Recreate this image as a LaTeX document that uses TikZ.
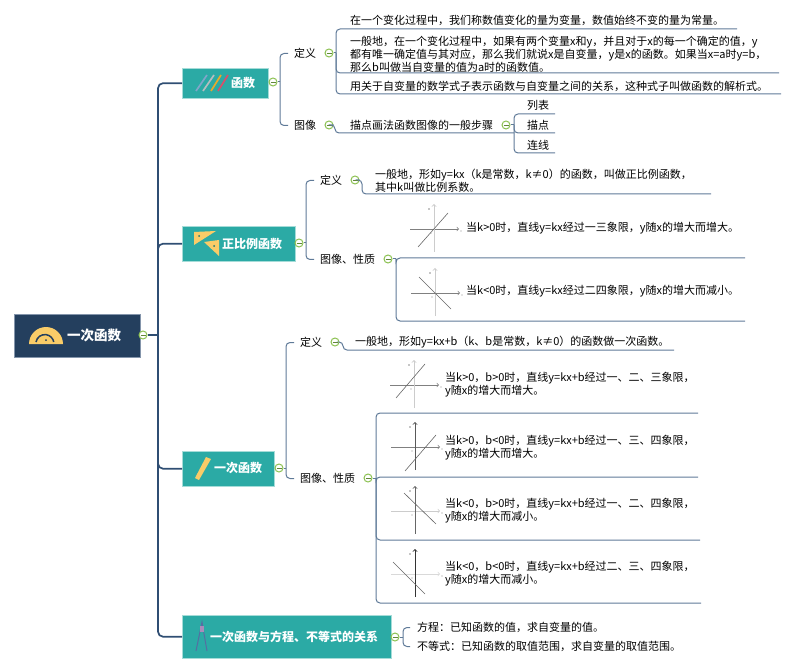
\documentclass[tikz,border=0pt]{standalone}
\usepackage{fontspec}
\setmainfont{Noto Sans CJK SC}
\definecolor{rootblue}{HTML}{243F5E}
\definecolor{rootedge}{HTML}{8495AB}
\definecolor{teal1}{HTML}{2BAAA5}
\definecolor{tealedge}{HTML}{A5DCD8}
\definecolor{trunkblue}{HTML}{2F4E73}
\definecolor{branchblue}{HTML}{5F7A98}
\definecolor{togglegreen}{HTML}{8CC152}
\definecolor{icongold}{HTML}{F9CC68}
\tikzset{
rootbox/.style={draw=rootedge,fill=rootblue,anchor=north west,inner sep=0},
topicbox/.style={draw=tealedge,fill=teal1,anchor=north west,inner sep=0},
rootname/.style={anchor=west,inner sep=0,text=white,font=\fontsize{13.5}{16}\selectfont\bfseries},
topicname/.style={anchor=west,inner sep=0,text=white,font=\fontsize{12}{15}\selectfont\bfseries},
toggle/.style={circle,draw=togglegreen,fill=white,line width=1pt,minimum size=8pt,inner sep=0,
  path picture={\draw[togglegreen!70!black,line width=.7pt] ([xshift=1.5pt]path picture bounding box.west) -- ([xshift=-1.5pt]path picture bounding box.east);}},
leaf/.style={anchor=west,inner sep=0,align=left,yshift=-.5pt,font=\fontsize{11}{12.9}\selectfont},
stem/.style={anchor=west,inner ysep=0,inner xsep=6pt,yshift=-.5pt,font=\fontsize{11}{13}\selectfont},
trunk/.style={trunkblue,line width=1.7pt,rounded corners=5pt},
branch/.style={branchblue,line width=1pt,rounded corners=4pt}
}
\begin{document}
\begin{tikzpicture}[x=1pt,y=-1pt]
\useasboundingbox (0,0) rectangle (800,668);
% main boxes
\node[rootbox,minimum width=126pt,minimum height=43pt] (root) at (14,314) {};
\node[topicbox,minimum width=86pt,minimum height=30pt] (fn) at (182,68) {};
\node[topicbox,minimum width=113pt,minimum height=35pt] (prop) at (182,226) {};
\node[topicbox,minimum width=92pt,minimum height=35pt] (lin) at (182,451) {};
\node[topicbox,minimum width=209pt,minimum height=43pt] (rel) at (182,615) {};
\node[rootname] (rootText) at (67,335) {一次函数};
\node[topicname] (fnText) at (231,83) {函数};
\node[topicname] (propText) at (222,244) {正比例函数};
\node[topicname] (linText) at (214,468) {一次函数};
\node[topicname] (relText) at (210,637) {一次函数与方程、不等式的关系};
% icons
\fill[icongold] (29,344) arc (180:360:17) -- cycle;
\draw[rootblue,line width=1.5pt] (36,342) arc (190:350:9);
\fill[rootblue] (46,340) circle (1);
\foreach \xa/\xb/\c in {196/207/7FA6C9,203/214/B5BDC0,211/221/E8A92C,218/228/D9506A}{
\definecolor{pen}{HTML}{\c}
\draw[pen,line width=1.7pt] (\xa,91) -- (\xb,75);
}
\fill[icongold] (194,232) -- (216,231) -- (194,245) -- cycle;
\fill[icongold] (204,242) -- (219,240) -- (219,256) -- cycle;
\fill[teal1!70!black] (199,236) circle (1);
\fill[teal1!70!black] (214,246) circle (1);
\fill[icongold] (206,457) -- (211,459) -- (199,480) -- (195,478) -- cycle;
\draw[branchblue!90!blue,line width=1pt] (196,651) -- (202,622) -- (207,651);
\fill[branchblue!50!violet!60!white] (200,626) rectangle (204,632);
% toggles
\foreach \n/\p in {rootT/{143,335},fnT/{273,82},propT/{299,243},linT/{279,468},relT/{395,637},
fnDefT/{329,53},fnPicT/{329,125},fnStepT/{506,125},propDefT/{355,180},propPicT/{388,259},linDefT/{335,342},linPicT/{368,478}}{
\node[toggle] (\n) at (\p) {};
}
% second level
\node[stem] (fnDef) at (288,53) {定义};
\node[stem] (fnPic) at (288,125) {图像};
\node[stem] (propDef) at (314,180) {定义};
\node[stem] (propPic) at (314,259) {图像、性质};
\node[stem] (linDef) at (294,342) {定义};
\node[stem] (linPic) at (294,478) {图像、性质};
\node[stem,inner xsep=7pt] (relEq) at (410,627) {方程：已知函数的值，求自变量的值。};
\node[stem,inner xsep=7pt] (relIn) at (410,646) {不等式：已知函数的取值范围，求自变量的取值范围。};
% leaves
\node[leaf] (fnA) at (350,20) {在一个变化过程中，我们称数值变化的量为变量，数值始终不变的量为常量。};
\node[leaf] (fnB) at (350,54) {一般地，在一个变化过程中，如果有两个变量x和y，并且对于x的每一个确定的值，y\\都有唯一确定值与其对应，那么我们就说x是自变量，y是x的函数。如果当x=a时y=b，\\那么b叫做当自变量的值为a时的函数值。};
\node[leaf] (fnC) at (350,86) {用关于自变量的数学式子表示函数与自变量之间的关系，这种式子叫做函数的解析式。};
\node[leaf] (fnStep) at (350,125) {描点画法函数图像的一般步骤};
\node[leaf] (stepA) at (527,105) {列表};
\node[leaf] (stepB) at (527,125) {描点};
\node[leaf] (stepC) at (527,145) {连线};
\node[leaf] (propA) at (375,180) {一般地，形如y=kx（k是常数，k≠0）的函数，叫做正比例函数，\\其中k叫做比例系数。};
\node[leaf] (propB) at (466,228) {当k>0时，直线y=kx经过一三象限，y随x的增大而增大。};
\node[leaf] (propC) at (466,291) {当k<0时，直线y=kx经过二四象限，y随x的增大而减小。};
\node[leaf] (linA) at (355,342) {一般地，形如y=kx+b（k、b是常数，k≠0）的函数做一次函数。};
\node[leaf] (linB) at (445,384) {当k>0，b>0时，直线y=kx+b经过一、二、三象限，\\y随x的增大而增大。};
\node[leaf] (linC) at (445,447) {当k>0，b<0时，直线y=kx+b经过一、三、四象限，\\y随x的增大而增大。};
\node[leaf] (linD) at (445,510) {当k<0，b>0时，直线y=kx+b经过一、二、四象限，\\y随x的增大而减小。};
\node[leaf] (linE) at (445,573) {当k<0，b<0时，直线y=kx+b经过二、三、四象限，\\y随x的增大而减小。};
% free ends of the connectors
\coordinate (rootJ) at (158,335);
\coordinate (fnJ) at (280,82);
\coordinate (propJ) at (306,243);
\coordinate (linJ) at (286,468);
\coordinate (relJ) at (403,637);
\coordinate (fnDefJ) at (336,53);
\coordinate (fnStepJ) at (514,125);
\coordinate (fnPicJ) at (335,125);
\coordinate (propDefJ) at (362,180);
\coordinate (propPicJ) at (396,259);
\coordinate (linDefJ) at (343,342);
\coordinate (linPicJ) at (376,478);
\coordinate (fnAEnd) at (737,29);
\coordinate (fnBEnd) at (779,73);
\coordinate (fnCEnd) at (781,94);
\coordinate (stepAEnd) at (555,114);
\coordinate (stepBEnd) at (555,133);
\coordinate (stepCEnd) at (555,153);
\coordinate (fnStepEnd) at (514,133);
\coordinate (propAEnd) at (711,194);
\coordinate (propBEnd) at (745,258);
\coordinate (propCEnd) at (745,321);
\coordinate (linAEnd) at (674,350);
\coordinate (linBEnd) at (698,413);
\coordinate (linCEnd) at (698,477);
\coordinate (linDEnd) at (700,540);
\coordinate (linEEnd) at (701,603);
% connectors
\draw[trunk] (rootT.east) -- (rootJ);
\foreach \t in {fn,prop,lin,rel}{
\draw[trunk] (rootJ) |- (\t.west);
}
\draw[branch] (fnT.east) -- (fnJ);
\draw[branch] (propT.east) -- (propJ);
\draw[branch] (linT.east) -- (linJ);
\draw[branch] (relT.east) -- (relJ);
\foreach \s/\j in {fnDef/fnJ,fnPic/fnJ,propDef/propJ,propPic/propJ,linDef/linJ,linPic/linJ,relEq/relJ,relIn/relJ}{
\draw[branch] (\j) |- (\s.west);
}
\draw[branch] (fnDefT.east) -- (fnDefJ);
\draw[branch] (fnStepT.east) -- (fnStepJ);
\draw[branch] (propPicT.east) -- (propPicJ);
\draw[branch] (linPicT.east) -- (linPicJ);
\foreach \j/\e in {fnDefJ/fnAEnd,fnDefJ/fnBEnd,fnDefJ/fnCEnd,fnStepJ/stepAEnd,fnStepJ/stepBEnd,fnStepJ/stepCEnd,propPicJ/propBEnd,propPicJ/propCEnd,linPicJ/linBEnd,linPicJ/linCEnd,linPicJ/linDEnd,linPicJ/linEEnd}{
\draw[branch] (\j) |- (\e);
}
\draw[branch] (fnPicT.east) -- (fnPicJ) |- (fnStepEnd);
\draw[branch] (propDefT.east) -- (propDefJ) |- (propAEnd);
\draw[branch] (linDefT.east) -- (linDefJ) |- (linAEnd);
% small graphs
\foreach \ox/\oy/\xa/\ya/\xb/\yb/\cx/\cy in {
434/229/418/247/448/213/50/20,
435/293/419/277/451/309/50/20,
414/385/396/398/425/364/50/20,
415/447/405/471/436/435/50/65,
415/511/404/493/436/524/20/60,
415/574/393/562/425/594/15/80}{
\draw[black!\cx,line width=.7pt,->] (\ox-24,\oy) -- (\ox+25,\oy);
\draw[black!\cy,line width=.9pt,->] (\ox,\oy+23) -- (\ox,\oy-25);
\draw[black!60,line width=.6pt] (\xa,\ya) -- (\xb,\yb);
\fill[black!45] (\ox-5,\oy-20) circle (.8);
\fill[black!45] (\ox+27,\oy+2) circle (.6);
\fill[black!45] (\ox-3,\oy+4) circle (.7);
}
\end{tikzpicture}
\end{document}
